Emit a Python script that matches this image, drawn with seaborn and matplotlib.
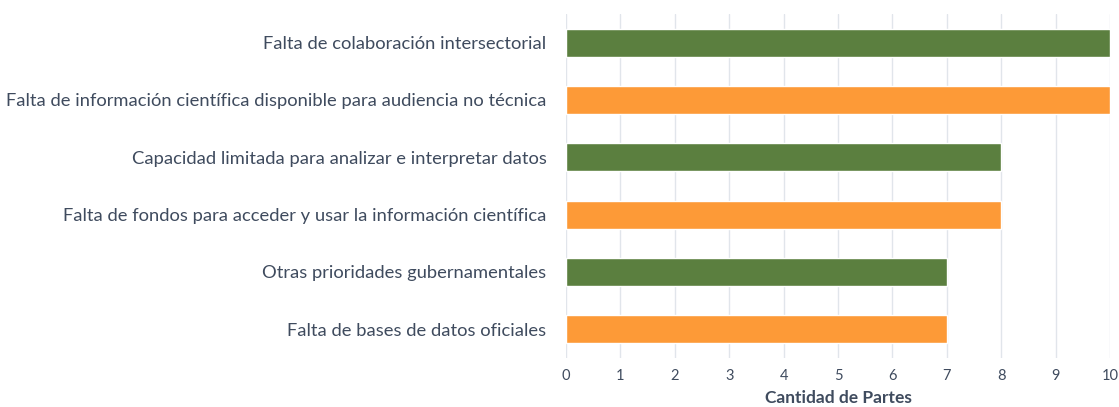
import matplotlib
matplotlib.use("Agg")
import matplotlib.pyplot as plt
import seaborn as sns
import pandas as pd

# data
categorias = [
    "Falta de colaboración intersectorial",
    "Falta de información científica disponible para audiencia no técnica",
    "Capacidad limitada para analizar e interpretar datos",
    "Falta de fondos para acceder y usar la información científica",
    "Otras prioridades gubernamentales",
    "Falta de bases de datos oficiales",
]
cantidad = [10, 10, 8, 8, 7, 7]
grupo = ["a", "b", "a", "b", "a", "b"]

df = pd.DataFrame({"categoria": categorias, "cantidad": cantidad, "grupo": grupo})

verde = "#5b7f3f"
naranja = "#fd9a37"
texto = "#3f4b5e"

sns.set_theme(style="white")
plt.rcParams["font.family"] = ["Lato", "DejaVu Sans"]

fig = plt.figure(figsize=(11.19, 4.07), dpi=100)
ax = fig.add_axes([0.5058, 0.121, 0.4862, 0.8445])

sns.barplot(data=df, x="cantidad", y="categoria", hue="grupo",
            palette={"a": verde, "b": naranja}, dodge=False,
            width=0.49, legend=False, ax=ax, saturation=1)

ax.set_xlim(0, 10)
ax.set_ylim(5.5, -0.5)
ax.set_xticks(range(0, 11))
ax.grid(axis="x", color="#e1e5eb", linewidth=1)
ax.set_axisbelow(True)
for s in ax.spines.values():
    s.set_visible(False)
ax.tick_params(axis="both", length=0)
ax.tick_params(axis="x", labelsize=10.5, colors=texto, pad=8)
ax.tick_params(axis="y", labelsize=13.2, colors=texto, pad=14)
ax.set_ylabel("")
ax.set_xlabel("Cantidad de Partes", fontsize=12.5, fontweight="bold",
              color=texto, labelpad=5)

fig.savefig("out.png", dpi=100)
